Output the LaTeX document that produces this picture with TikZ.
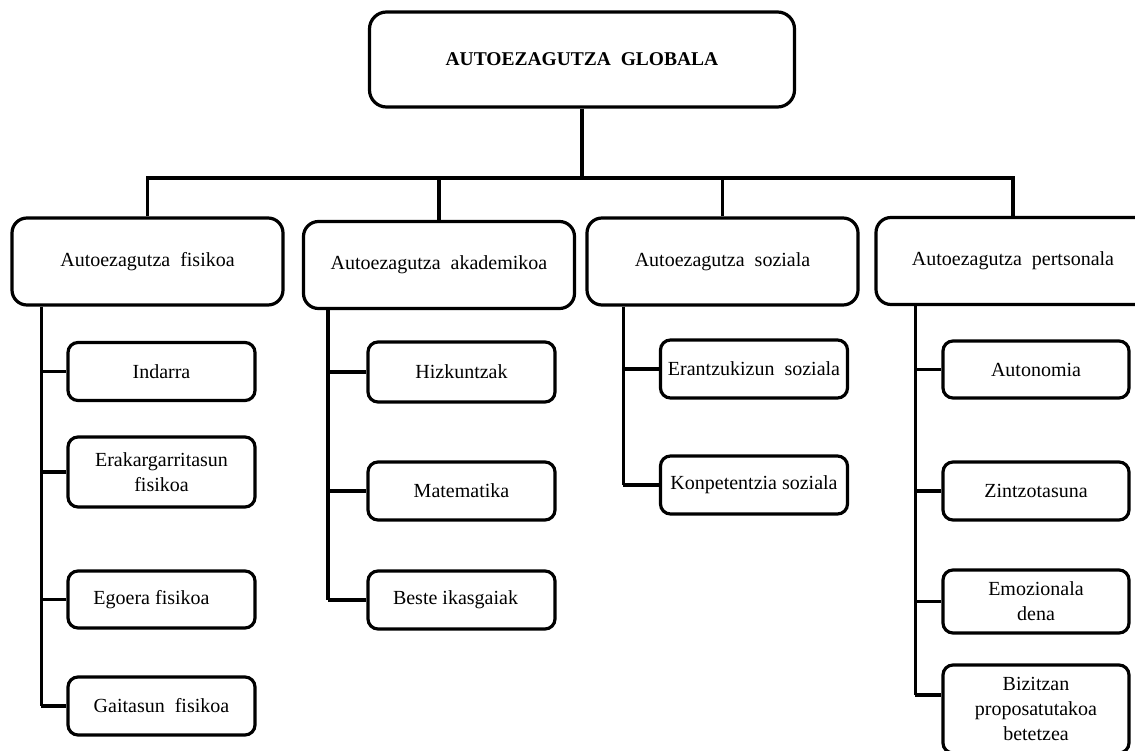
\documentclass[tikz,border=0pt]{standalone}
\usepackage{fontspec}
\setmainfont{Liberation Serif}
\usetikzlibrary{positioning}

\tikzset{
  topbox/.style={draw, line width=3.2pt, rounded corners=17pt, inner sep=0pt,
    minimum width=425pt, minimum height=95pt,
    font=\fontsize{19.5}{23}\selectfont\bfseries},
  groupbox/.style={draw, line width=3.2pt, rounded corners=15pt, inner sep=0pt,
    minimum width=271pt, minimum height=87pt,
    font=\fontsize{20}{25}\selectfont},
  itembox/.style={draw, line width=3.2pt, rounded corners=10pt, inner sep=0pt,
    minimum width=187pt, minimum height=58pt, align=center,
    font=\fontsize{20}{25}\selectfont},
  link/.style={line width=3.4pt}
}

\begin{document}
\begin{tikzpicture}[x=1pt, y=-1pt]

  \useasboundingbox (0,0) rectangle (1135,751);

  % Top box
  \node[topbox] (glob) at (582,59.5) {AUTOEZAGUTZA~ GLOBALA};
  \coordinate (bar) at (582,178);

  % Group boxes
  \node[groupbox] (fis) at (147.5,261.5) {Autoezagutza~ fisikoa};
  \node[groupbox] (aka) at (439,265) {Autoezagutza~ akademikoa};
  \node[groupbox] (soz) at (722.5,261.5) {Autoezagutza~ soziala};
  \node[groupbox, minimum width=274pt] (per) at (1013,261) {Autoezagutza~ pertsonala};

  % Items of fis
  \node[itembox] (ind) at (161.5,371.5) {Indarra};
  \node[itembox, minimum height=70pt] (era) at (161.5,472) {Erakargarritasun\\fisikoa};
  \node[itembox, minimum height=57pt] (ego) at (161.5,599.5) {Egoera fisikoa\hspace{20pt}};
  \node[itembox] (gai) at (161.5,706) {Gaitasun~ fisikoa};

  % Items of aka
  \node[itembox, minimum height=60pt] (hiz) at (461.5,372) {Hizkuntzak};
  \node[itembox] (mat) at (461.5,491) {Matematika};
  \node[itembox] (bes) at (461.5,600) {Beste ikasgaiak\hspace{12pt}};

  % Items of soz
  \node[itembox] (ers) at (754,369) {Erantzukizun~ soziala};
  \node[itembox] (kon) at (754,485) {Konpetentzia soziala};

  % Items of per
  \node[itembox, minimum width=186pt, minimum height=57pt] (aut) at (1036,369.5) {Autonomia};
  \node[itembox, minimum width=186pt] (zin) at (1036,491) {Zintzotasuna};
  \node[itembox, minimum width=186pt, minimum height=63pt] (emo) at (1036,601.5) {Emozionala\\dena};
  \node[itembox, minimum width=186pt, minimum height=88pt] (biz) at (1036,709) {Bizitzan\\proposatutakoa\\betetzea};

  % Top level connectors
  \draw[link] (glob.south) -- (bar);
  \draw[link] (fis.north) |- (bar) -| (per.north);
  \draw[link] (aka.north) -- (aka.north |- bar);
  \draw[link] (soz.north) -- (soz.north |- bar);

  % Spines
  \coordinate (fisS) at ([xshift=31pt]fis.south west);
  \coordinate (akaS) at ([xshift=26pt]aka.south west);
  \coordinate (sozS) at ([xshift=38pt]soz.south west);
  \coordinate (perS) at ([xshift=41pt]per.south west);
  \coordinate (bizL) at ([yshift=14pt]biz.west);

  \draw[link] (fisS) -- (fisS |- gai.west);
  \draw[link] (akaS) -- (akaS |- bes.west);
  \draw[link] (sozS) -- (sozS |- kon.west);
  \draw[link] (perS) -- (perS |- bizL);

  % Branches
  \foreach \n in {ind,era,ego,gai}
    \draw[link] (fisS |- \n.west) -- (\n.west);
  \foreach \n in {hiz,mat,bes}
    \draw[link] (akaS |- \n.west) -- (\n.west);
  \foreach \n in {ers,kon}
    \draw[link] (sozS |- \n.west) -- (\n.west);
  \foreach \n in {aut,zin,emo}
    \draw[link] (perS |- \n.west) -- (\n.west);
  \draw[link] (perS |- bizL) -- (bizL);

\end{tikzpicture}
\end{document}
